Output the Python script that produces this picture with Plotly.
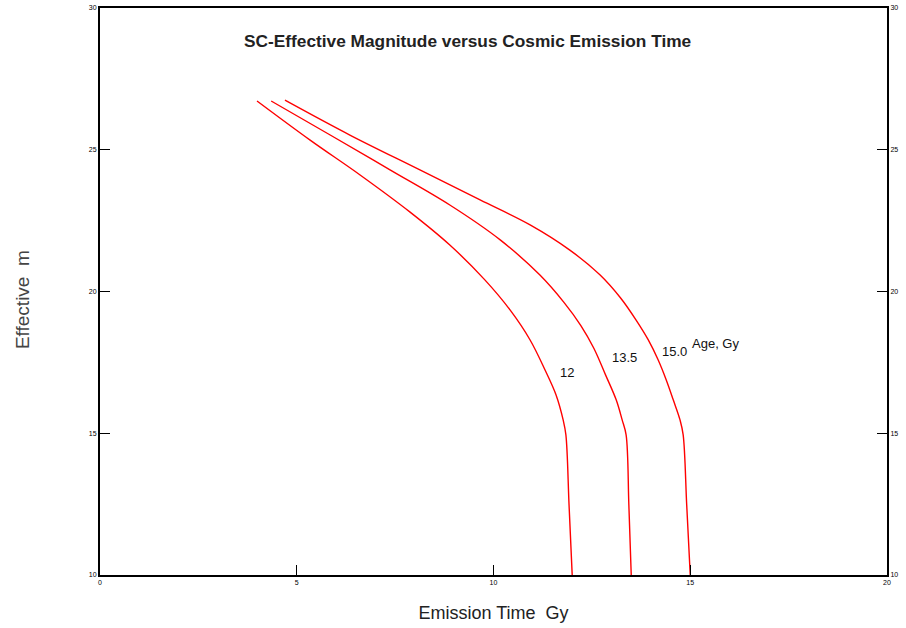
import plotly.graph_objects as go

# Curve data (Emission Time Gy, Effective m)
t_12 = [3.99, 5.34, 6.61, 7.88, 8.89, 9.78, 10.42, 10.93, 11.31, 11.59, 11.77, 11.84, 11.92, 12.0]
m_12 = [26.72, 25.34, 24.11, 22.80, 21.64, 20.41, 19.35, 18.29, 17.23, 16.35, 15.47, 14.94, 12.47, 10.0]

t_135 = [4.35, 5.85, 7.37, 8.89, 10.17, 11.18, 11.80, 12.22, 12.55, 12.85, 13.12, 13.27, 13.37, 13.44, 13.5]
m_135 = [26.72, 25.52, 24.29, 23.05, 21.82, 20.58, 19.60, 18.80, 18.00, 17.05, 16.17, 15.47, 14.94, 12.47, 10.0]

t_15 = [4.70, 6.35, 8.13, 9.66, 10.93, 11.94, 12.71, 13.23, 13.62, 13.93, 14.18, 14.39, 14.57, 14.74, 14.82, 14.91, 15.0]
m_15 = [26.75, 25.52, 24.29, 23.23, 22.35, 21.46, 20.58, 19.77, 19.00, 18.30, 17.60, 16.88, 16.17, 15.47, 14.94, 12.47, 10.0]

tick_vals = [10, 15, 20, 25, 30]
x_tick_vals = [0, 5, 10, 15, 20]

labels = ["12", "13.5", "15.0", "Age, Gy"]
label_x = [11.88, 13.34, 14.61, 15.65]
label_y = [17.14, 17.67, 17.9, 18.15]

FONT = "Arial, Liberation Sans, sans-serif"

fig = go.Figure()
for t, m in [(t_12, m_12), (t_135, m_135), (t_15, m_15)]:
    fig.add_trace(go.Scatter(x=t, y=m, mode="lines",
                             line=dict(color="#ff0000", width=1.4, shape="spline", smoothing=1.0),
                             showlegend=False, hoverinfo="skip"))
# dummy trace for right axis
fig.add_trace(go.Scatter(x=[None], y=[None], yaxis="y2", showlegend=False))

for lx, ly, txt in zip(label_x, label_y, labels):
    fig.add_annotation(x=lx, y=ly, text=txt, showarrow=False,
                       font=dict(family=FONT, size=13, color="#111111"))

fig.add_annotation(x=0.467, y=28.85, xref="paper", yref="y",
                   text="<b>SC-Effective Magnitude versus Cosmic Emission Time</b>",
                   showarrow=False, font=dict(family=FONT, size=17.3, color="#222222"))

# y-axis title as rotated annotation
fig.add_annotation(x=-0.099, y=19.7, xref="paper", yref="y", text="Effective  m",
                   textangle=-90, showarrow=False, xanchor="center", yanchor="middle",
                   font=dict(family=FONT, size=19, color="#444444"))

axis_common = dict(showgrid=False, zeroline=False, ticks="inside", ticklen=10, tickwidth=1,
                   tickcolor="black", linecolor="black", linewidth=2, showline=True,
                   tickfont=dict(family=FONT, size=7, color="black"))

fig.update_layout(
    width=906, height=628,
    margin=dict(l=100, r=19, t=8, b=53, autoexpand=False),
    plot_bgcolor="white", paper_bgcolor="white",
    xaxis=dict(range=[0, 20], tickvals=x_tick_vals, mirror=True, **axis_common,
               title=dict(text="Emission Time  Gy", standoff=21,
                          font=dict(family=FONT, size=18, color="#222222"))),
    yaxis=dict(range=[10, 30], tickvals=tick_vals, mirror=True, **axis_common),
    yaxis2=dict(range=[10, 30], tickvals=tick_vals, overlaying="y", side="right", **axis_common),
)

fig.write_html("out.html", config={"displayModeBar": False},
               post_script="document.body.style.margin='0px';")
